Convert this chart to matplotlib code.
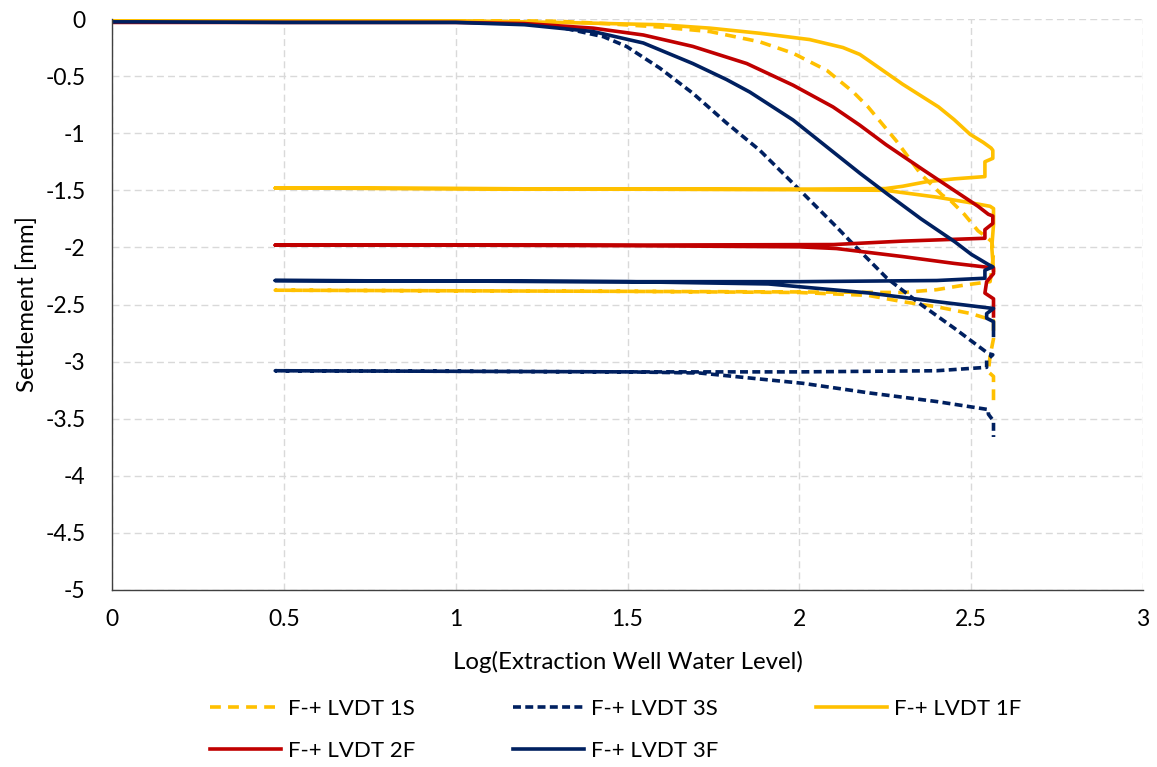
import matplotlib
matplotlib.use("Agg")
import matplotlib.pyplot as plt
import numpy as np

plt.rcParams['font.family'] = ['Lato', 'DejaVu Sans']

# ---------------- data ----------------
# F-+ LVDT 1S (yellow dashed)
x_1s = [0.0, 0.5, 1.0, 1.3, 1.434, 1.594, 1.74, 1.885, 1.982, 2.08, 2.157, 2.20, 2.283, 2.354, 2.415,
        2.44, 2.48, 2.52, 2.545,
        2.56, 2.565, 2.56, 2.555,
        2.48, 2.40, 2.30, 2.0, 1.5, 1.0, 0.475,
        1.0, 1.5, 2.0, 2.2,
        2.30, 2.40, 2.50, 2.565,
        2.565, 2.555, 2.55, 2.565, 2.565]
y_1s = [-0.005, -0.005, -0.008, -0.02, -0.04, -0.07, -0.11, -0.20, -0.30, -0.45, -0.64, -0.77, -1.07, -1.36, -1.54,
        -1.59, -1.71, -1.855, -1.91,
        -1.95, -2.05, -2.2, -2.30,
        -2.33, -2.37, -2.395, -2.39, -2.385, -2.38, -2.375,
        -2.38, -2.385, -2.395, -2.42,
        -2.475, -2.52, -2.58, -2.64,
        -2.8, -2.95, -3.09, -3.13, -3.40]

# F-+ LVDT 3S (navy short dashes)
x_3s = [0.0, 0.5, 1.0, 1.2, 1.3, 1.43, 1.497, 1.594, 1.69, 1.788, 1.885, 1.982, 2.108, 2.156, 2.255,
        2.354, 2.452, 2.55, 2.563,
        2.545, 2.545,
        2.40, 2.0, 1.5, 1.0, 0.475,
        1.0, 1.5, 1.71,
        2.01, 2.205, 2.40, 2.55,
        2.55, 2.565, 2.565]
y_3s = [-0.025, -0.025, -0.025, -0.04, -0.07, -0.155, -0.24, -0.43, -0.65, -0.91, -1.15, -1.44, -1.82, -1.97, -2.27,
        -2.50, -2.71, -2.93, -2.94,
        -2.99, -3.05,
        -3.08, -3.09, -3.09, -3.085, -3.08,
        -3.085, -3.09, -3.10,
        -3.19, -3.275, -3.35, -3.42,
        -3.46, -3.52, -3.66]

# F-+ LVDT 1F (yellow solid)
x_1f = [0.0, 0.5, 1.0, 1.3, 1.594, 1.74, 1.885, 2.03, 2.127, 2.176, 2.20, 2.30, 2.405, 2.45, 2.497,
        2.535, 2.558,
        2.563, 2.563, 2.54, 2.54,
        2.45, 2.37, 2.30, 2.25, 2.0, 1.5, 1.0, 0.475,
        1.0, 1.5, 2.0, 2.25,
        2.40, 2.50, 2.555, 2.565,
        2.565, 2.56, 2.565]
y_1f = [-0.01, -0.01, -0.015, -0.03, -0.05, -0.08, -0.125, -0.18, -0.25, -0.31, -0.36, -0.57, -0.77, -0.88, -1.01,
        -1.08, -1.13,
        -1.15, -1.22, -1.25, -1.38,
        -1.40, -1.425, -1.465, -1.485, -1.49, -1.49, -1.485, -1.48,
        -1.485, -1.49, -1.495, -1.50,
        -1.56, -1.61, -1.64, -1.66,
        -1.8, -2.0, -2.2]

# F-+ LVDT 2F (red solid)
x_2f = [0.0, 0.5, 1.0, 1.2, 1.40, 1.546, 1.69, 1.847, 1.982, 2.098, 2.176, 2.252, 2.36, 2.45, 2.52,
        2.55, 2.563,
        2.563, 2.54, 2.54,
        2.30, 2.10, 1.5, 1.0, 0.475,
        1.0, 1.5, 2.0,
        2.108, 2.30, 2.45, 2.565,
        2.565, 2.545, 2.54, 2.565, 2.565]
y_2f = [-0.03, -0.03, -0.03, -0.04, -0.08, -0.14, -0.24, -0.39, -0.58, -0.77, -0.93, -1.10, -1.32, -1.50, -1.64,
        -1.71, -1.725,
        -1.79, -1.845, -1.92,
        -1.945, -1.975, -1.98, -1.98, -1.98,
        -1.98, -1.985, -1.995,
        -2.01, -2.08, -2.14, -2.18,
        -2.23, -2.30, -2.40, -2.45, -2.60]

# F-+ LVDT 3F (navy solid)
x_3f = [0.0, 0.08, 0.5, 1.0, 1.2, 1.40, 1.546, 1.69, 1.788, 1.856, 1.982, 2.08, 2.176, 2.255, 2.354,
        2.452, 2.50, 2.55, 2.563,
        2.54, 2.54,
        2.40, 2.0, 1.5, 1.0, 0.475,
        1.0, 1.5, 1.91,
        2.205, 2.40, 2.565,
        2.545, 2.545, 2.565, 2.565]
y_3f = [-0.025, -0.025, -0.03, -0.03, -0.05, -0.11, -0.21, -0.39, -0.53, -0.64, -0.885, -1.12, -1.35, -1.53, -1.75,
        -1.95, -2.06, -2.15, -2.17,
        -2.20, -2.27,
        -2.29, -2.30, -2.30, -2.295, -2.29,
        -2.295, -2.30, -2.32,
        -2.40, -2.475, -2.535,
        -2.58, -2.62, -2.65, -2.77]

x_ticks = [0, 0.5, 1, 1.5, 2, 2.5, 3]
x_tick_labels = ['0', '0.5', '1', '1.5', '2', '2.5', '3']
y_ticks = [0, -0.5, -1, -1.5, -2, -2.5, -3, -3.5, -4, -4.5, -5]
y_tick_labels = ['0', '-0.5', '-1', '-1.5', '-2', '-2.5', '-3', '-3.5', '-4', '-4.5', '-5']

# ---------------- figure ----------------
YELLOW = '#FFC000'
RED = '#C00000'
NAVY = '#002060'

fig = plt.figure(figsize=(11.57, 7.67), dpi=100)
ax = fig.add_axes([112 / 1157, 1 - 590 / 767, (1143 - 112) / 1157, (590 - 19) / 767])

lw = 2.6
l1s, = ax.plot(x_1s, y_1s, color=YELLOW, lw=lw, linestyle=(0, (3.0, 2.0)), label='F-+ LVDT 1S')
l3s, = ax.plot(x_3s, y_3s, color=NAVY, lw=lw, linestyle=(0, (2.2, 1.2)), label='F-+ LVDT 3S')
l1f, = ax.plot(x_1f, y_1f, color=YELLOW, lw=lw, label='F-+ LVDT 1F')
l2f, = ax.plot(x_2f, y_2f, color=RED, lw=lw, label='F-+ LVDT 2F')
l3f, = ax.plot(x_3f, y_3f, color=NAVY, lw=lw, label='F-+ LVDT 3F')

ax.set_xlim(0, 3)
ax.set_ylim(-5, 0)
ax.set_xticks(x_ticks)
ax.set_xticklabels(x_tick_labels)
ax.set_yticks(y_ticks)
ax.set_yticklabels(y_tick_labels)
ax.tick_params(length=0, labelsize=16.5, colors='#000000', pad=14)
ax.tick_params(axis='y', pad=19)

ax.grid(True, color='#D9D9D9', lw=1.0, linestyle=(0, (5, 3)))
ax.set_axisbelow(True)
for s in ['top', 'right']:
    ax.spines[s].set_visible(False)
for s in ['left', 'bottom']:
    ax.spines[s].set_color('#404040')
    ax.spines[s].set_linewidth(1.0)

ax.set_xlabel('Log(Extraction Well Water Level)', fontsize=17.3, labelpad=15)
ax.set_ylabel('Settlement [mm]', fontsize=17.3, labelpad=5)

handles = [l1s, l2f, l3s, l3f, l1f]
leg = fig.legend(handles, [h.get_label() for h in handles], ncol=3, loc='center',
                 bbox_to_anchor=(0.532, 1 - 730 / 767), frameon=False, fontsize=16,
                 handlelength=3.2, columnspacing=4.4, labelspacing=0.98, handletextpad=0.3)

fig.savefig('out.png', dpi=100)
